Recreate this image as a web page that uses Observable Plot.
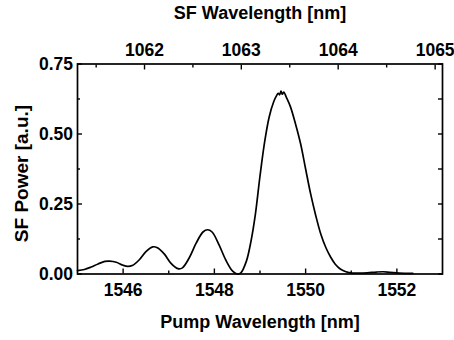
<!DOCTYPE html>
<html><head><meta charset="utf-8">
<script src="https://cdn.jsdelivr.net/npm/d3@7"></script>
<script src="https://cdn.jsdelivr.net/npm/@observablehq/plot@0.6"></script>
<style>body{margin:0;background:#fff}</style>
</head><body><div id="chart"></div>
<script>
const pumpWavelength = [1545.00,1545.15,1545.30,1545.45,1545.60,1545.70,1545.85,1546.00,1546.10,1546.20,1546.35,1546.50,1546.65,1546.75,1546.90,1547.05,1547.20,1547.30,1547.45,1547.60,1547.75,1547.85,1547.95,1548.10,1548.25,1548.40,1548.50,1548.58,1548.70,1548.80,1548.90,1549.00,1549.10,1549.20,1549.30,1549.36,1549.40,1549.43,1549.46,1549.49,1549.52,1549.58,1549.67,1549.78,1549.89,1550.00,1550.11,1550.22,1550.33,1550.45,1550.55,1550.65,1550.76,1550.87,1550.98,1551.15,1551.35,1551.55,1551.70,1551.85,1552.05,1552.35];
const sfPower = [0.012,0.016,0.025,0.036,0.045,0.046,0.042,0.031,0.027,0.030,0.050,0.080,0.097,0.094,0.072,0.038,0.019,0.022,0.058,0.110,0.150,0.158,0.150,0.105,0.050,0.010,0.000,0.004,0.045,0.115,0.215,0.350,0.470,0.560,0.615,0.636,0.645,0.640,0.653,0.642,0.650,0.630,0.596,0.535,0.465,0.375,0.286,0.210,0.144,0.092,0.060,0.035,0.018,0.009,0.004,0.003,0.004,0.007,0.008,0.006,0.003,0.002];
const pumpMajorTicks = [1546,1548,1550,1552];
const pumpMinorTicks = [1547,1549,1551];
const sfMajorTicks = [1062,1063,1064,1065];
const sfMinorTicks = [1061.5,1062.5,1063.5,1064.5];
const powerMajorTicks = [0,0.25,0.5,0.75];
const powerMinorTicks = [0.125,0.375,0.625];
const signalWavelength = 3390; // nm, from 1/λsf = 1/λp + 1/λs

const toPump = sf => 1 / (1 / sf - 1 / signalWavelength);
const toSF = p => 1 / (1 / p + 1 / signalWavelength);
const data = pumpWavelength.map((x, i) => ({x, y: sfPower[i]}));

const font = "Liberation Sans, Arial, sans-serif";
const tickText = {fontSize: 17.5, fontWeight: "bold", fontFamily: font, fill: "#000"};
const titleText = {fontWeight: "bold", fontFamily: font, fill: "#000", textAnchor: "middle"};

const chart = Plot.plot({
  width: 454, height: 340,
  marginLeft: 77, marginRight: 12, marginTop: 63.5, marginBottom: 66.5,
  style: {fontFamily: font, color: "#000", background: "#fff"},
  x: {domain: [1545, 1553], label: null},
  y: {domain: [0, 0.75], label: null},
  marks: [
    // bottom axis
    Plot.axisX(pumpMajorTicks, {anchor: "bottom", tickSize: 0, tickPadding: 9.5, tickFormat: d => String(d), ...tickText}),
    Plot.axisX(pumpMajorTicks, {anchor: "bottom", text: null, tickSize: 5, dy: -5, strokeWidth: 1.4}),
    Plot.axisX(pumpMinorTicks, {anchor: "bottom", text: null, tickSize: 3, dy: -3, strokeWidth: 1.4}),
    // top axis (SF wavelength)
    Plot.axisX(sfMajorTicks.map(toPump), {anchor: "top", tickSize: 0, tickPadding: 8.5, tickFormat: d => String(Math.round(toSF(d))), ...tickText}),
    Plot.axisX(sfMajorTicks.map(toPump), {anchor: "top", text: null, tickSize: 5, dy: 5, strokeWidth: 1.4}),
    Plot.axisX(sfMinorTicks.map(toPump), {anchor: "top", text: null, tickSize: 3, dy: 3, strokeWidth: 1.4}),
    // left axis
    Plot.axisY(powerMajorTicks, {anchor: "left", tickSize: 0, tickPadding: 4.5, tickFormat: d3.format(".2f"), ...tickText}),
    Plot.axisY(powerMajorTicks, {anchor: "left", text: null, tickSize: 5, dx: 5, strokeWidth: 1.4}),
    Plot.axisY(powerMinorTicks, {anchor: "left", text: null, tickSize: 3, dx: 3, strokeWidth: 1.4}),
    // right axis
    Plot.axisY(powerMajorTicks, {anchor: "right", text: null, tickSize: 5, dx: -5, strokeWidth: 1.4}),
    Plot.axisY(powerMinorTicks, {anchor: "right", text: null, tickSize: 5, dx: -5, strokeWidth: 1.4}),
    Plot.frame({stroke: "#000", strokeWidth: 1.7}),
    Plot.line(data, {x: "x", y: "y", curve: "catmull-rom", stroke: "#000", strokeWidth: 1.7}),
    // titles
    Plot.text(["SF Wavelength [nm]"], {frameAnchor: "top", lineAnchor: "bottom", dy: -45.2, fontSize: 18, ...titleText}),
    Plot.text(["Pump Wavelength [nm]"], {frameAnchor: "bottom", lineAnchor: "bottom", dy: 53.5, fontSize: 18, ...titleText}),
    Plot.text(["SF Power [a.u.]"], {frameAnchor: "left", lineAnchor: "bottom", rotate: -90, dx: -50, dy: 4.5, fontSize: 19, ...titleText})
  ]
});
document.getElementById("chart").appendChild(chart);
</script>
</body></html>
